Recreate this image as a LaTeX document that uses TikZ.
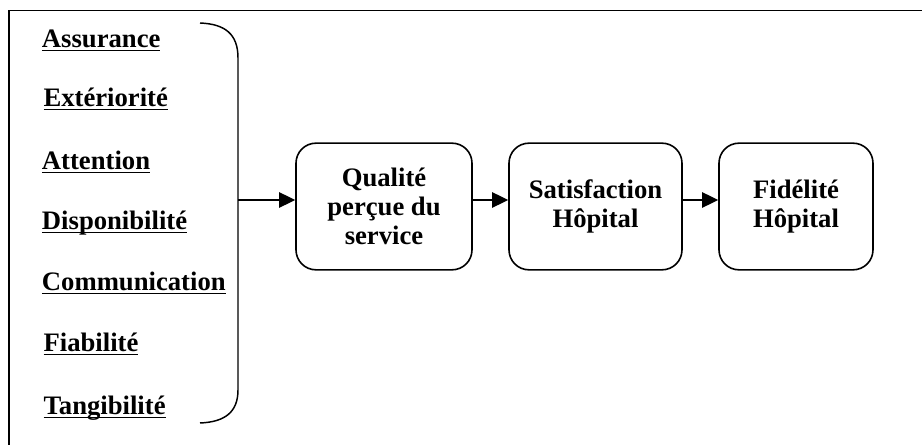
\documentclass[tikz,border=0pt]{standalone}
\usepackage{fontspec}
\setmainfont{Liberation Serif}
\usetikzlibrary{arrows.meta}

% bold underlined label with a heavier rule
\newcommand\ulword[1]{\setbox0\hbox{#1}\rlap{\rule[-2.4pt]{\wd0}{1.2pt}}\box0}

\begin{document}
\begin{tikzpicture}[x=0.75pt,y=-0.75pt,
  dim/.style={anchor=base west,inner sep=0pt,font=\fontsize{20}{22}\selectfont\bfseries},
  stage/.style={draw,line width=1.2pt,rounded corners=15pt,align=center,
    minimum height=95pt,inner sep=0pt,font=\fontsize{20}{22}\selectfont\bfseries},
  link/.style={line width=1.1pt,-{Triangle[length=12pt,width=11.5pt]}}]
\useasboundingbox (0,0) rectangle (922,445);

% frame (top and left edges)
\draw[line width=1.2pt] (922,10.5) -- (9,10.5) -- (9,445);

% service quality dimensions
\node[dim] (d1) at (41.7,48)  {\ulword{Assurance}};
\node[dim] (d2) at (43.3,107) {\ulword{Extériorité}};
\node[dim] (d3) at (41.7,170) {\ulword{Attention}};
\node[dim] (d4) at (41.7,230) {\ulword{Disponibilité}};
\node[dim] (d5) at (41.7,291) {\ulword{Communication}};
\node[dim] (d6) at (43.3,352) {\ulword{Fiabilité}};
\node[dim] (d7) at (43.3,415) {\ulword{Tangibilité}};

% closing bracket grouping the dimensions
\coordinate (bt) at (200,23);
\coordinate (bb) at (200,423);
\coordinate (bm) at (238,200);
\draw[line width=1.1pt] (bt) .. controls (225,24) and (238,34) .. (238,58)
  -- (238,390) .. controls (238,412) and (225,422) .. (bb);

% stages
\node[stage,minimum width=132pt] (q) at (384,206.5) {Qualité\\perçue du\\service};
\node[stage,minimum width=129.75pt] (s) at (595.5,206.5) {Satisfaction\\Hôpital};
\node[stage,minimum width=115.5pt] (f) at (796,206.5) {Fidélité\\Hôpital};

\draw[link] (bm) -- (q.west |- bm);
\draw[link] (q.east |- bm) -- (s.west |- bm);
\draw[link] (s.east |- bm) -- (f.west |- bm);
\end{tikzpicture}
\end{document}
